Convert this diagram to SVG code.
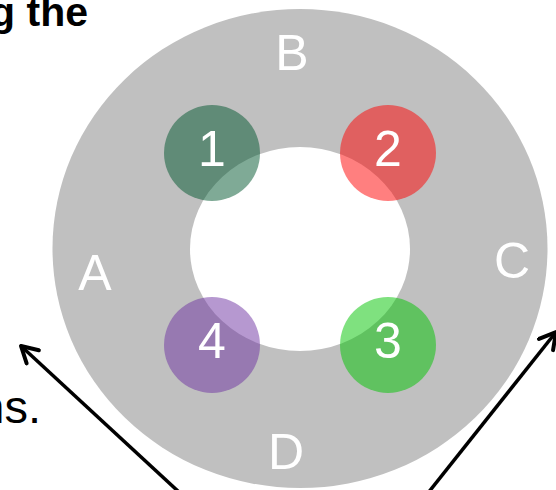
<svg xmlns="http://www.w3.org/2000/svg" width="556" height="490" viewBox="0 0 556 490">
<style>
.lbl{font-family:"Liberation Sans",Arial,sans-serif;font-size:50px;fill:#ffffff;text-anchor:middle}
.num{font-family:"Liberation Sans",Arial,sans-serif;font-size:50px;fill:#ffffff;text-anchor:middle}
.dot{opacity:0.5}
.arrow{fill:none;stroke:#000;stroke-width:3.5}
.txt{font-family:"Liberation Sans",Arial,sans-serif;fill:#000;text-anchor:end}
</style>
<defs>
<marker id="ah" viewBox="0 0 22 22" refX="19" refY="11" markerWidth="22" markerHeight="22" markerUnits="userSpaceOnUse" orient="auto">
<path d="M3,2 L19,11 L3,20" fill="none" stroke="#000" stroke-width="4" stroke-linecap="round" stroke-linejoin="round"/>
</marker>
</defs>
<text class="txt" x="88" y="26" font-size="41" font-weight="bold">g the</text>
<text class="txt" x="41" y="423" font-size="47">ns.</text>
<g id="ring">
<ellipse cx="300" cy="248.5" rx="247.5" ry="239.5" fill="#c0c0c0"/>
<ellipse cx="300" cy="249" rx="110" ry="102" fill="#ffffff"/>
</g>
<g id="node1"><circle class="dot" cx="212" cy="153" r="48" fill="#00552d"/><text class="num" x="212" y="166">1</text></g>
<g id="node2"><circle class="dot" cx="388" cy="153" r="48" fill="#ff0000"/><text class="num" x="388" y="166">2</text></g>
<g id="node3"><circle class="dot" cx="388" cy="345" r="48" fill="#00c400"/><text class="num" x="388" y="358">3</text></g>
<g id="node4"><circle class="dot" cx="212" cy="345" r="48" fill="#6d31a1"/><text class="num" x="212" y="358">4</text></g>
<g id="labels">
<text class="lbl" x="292" y="70">B</text>
<text class="lbl" x="95" y="290">A</text>
<text class="lbl" x="512" y="278">C</text>
<text class="lbl" x="286" y="469">D</text>
</g>
<g id="connectors">
<line class="arrow" x1="180" y1="493" x2="21" y2="346" marker-end="url(#ah)"/>
<line class="arrow" x1="428" y1="493" x2="556" y2="332" marker-end="url(#ah)"/>
</g>
</svg>
